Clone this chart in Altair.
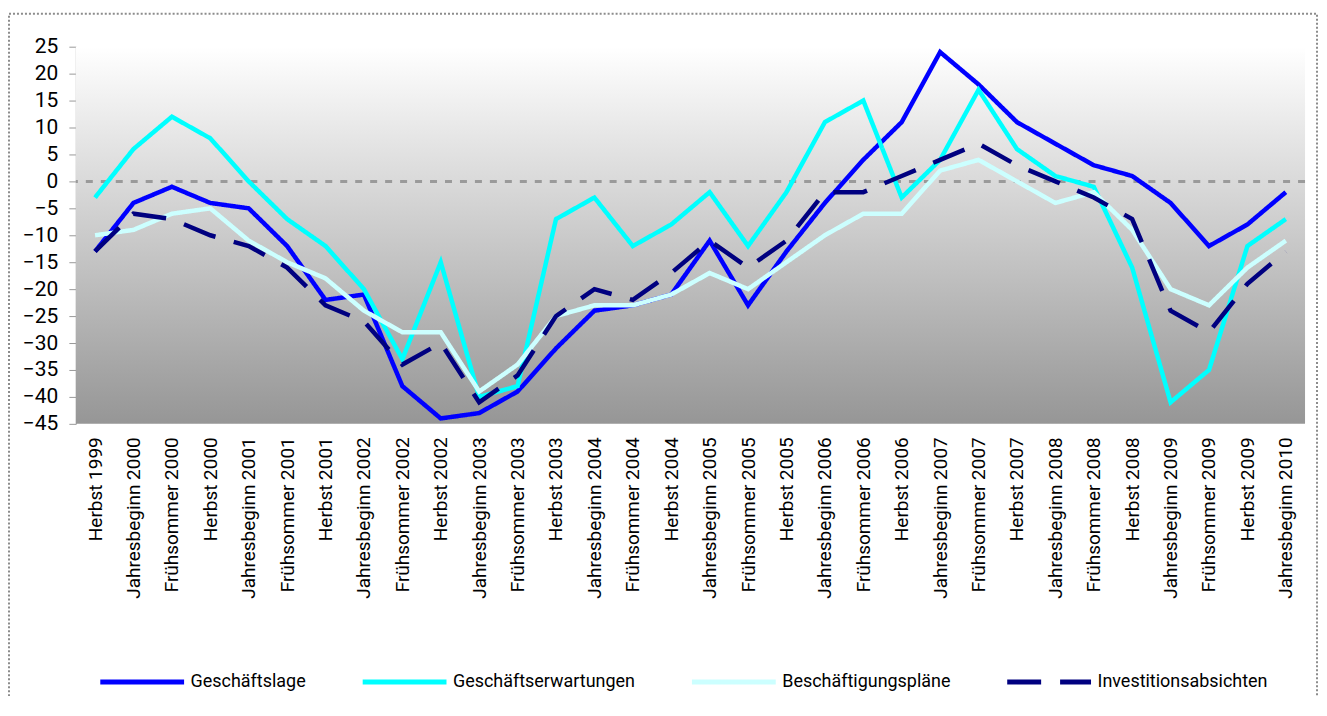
import altair as alt
import pandas as pd

categories = [
    "Herbst 1999", "Jahresbeginn 2000", "Frühsommer 2000", "Herbst 2000",
    "Jahresbeginn 2001", "Frühsommer 2001", "Herbst 2001", "Jahresbeginn 2002",
    "Frühsommer 2002", "Herbst 2002", "Jahresbeginn 2003", "Frühsommer 2003",
    "Herbst 2003", "Jahresbeginn 2004", "Frühsommer 2004", "Herbst 2004",
    "Jahresbeginn 2005", "Frühsommer 2005", "Herbst 2005", "Jahresbeginn 2006",
    "Frühsommer 2006", "Herbst 2006", "Jahresbeginn 2007", "Frühsommer 2007",
    "Herbst 2007", "Jahresbeginn 2008", "Frühsommer 2008", "Herbst 2008",
    "Jahresbeginn 2009", "Frühsommer 2009", "Herbst 2009", "Jahresbeginn 2010",
]

geschaeftslage = [-13, -4, -1, -4, -5, -12, -22, -21, -38, -44, -43, -39, -31, -24, -23, -21,
                  -11, -23, -13, -4, 4, 11, 24, 18, 11, 7, 3, 1, -4, -12, -8, -2]
geschaeftserwartungen = [-3, 6, 12, 8, 0, -7, -12, -20, -33, -15, -40, -38, -7, -3, -12, -8,
                         -2, -12, -2, 11, 15, -3, 4, 17, 6, 1, -1, -16, -41, -35, -12, -7]
beschaeftigungsplaene = [-10, -9, -6, -5, -11, -15, -18, -24, -28, -28, -39, -34, -25, -23, -23, -21,
                         -17, -20, -15, -10, -6, -6, 2, 4, 0, -4, -2, -9, -20, -23, -16, -11]
investitionsabsichten = [-13, -6, -7, -10, -12, -16, -23, -26, -34, -30, -41, -36, -25, -20, -22, -17,
                         -11, -16, -11, -2, -2, 1, 4, 7, 3, 0, -3, -7, -24, -28, -19, -13]

series_names = ["Geschäftslage", "Geschäftserwartungen", "Beschäftigungspläne", "Investitionsabsichten"]
series_values = [geschaeftslage, geschaeftserwartungen, beschaeftigungsplaene, investitionsabsichten]
series_colors = ["#0000ff", "#00ffff", "#ccffff", "#000080"]
series_dash = [[1, 0], [1, 0], [1, 0], [34, 19]]
y_ticks = list(range(-45, 30, 5))
y_min, y_max = -45, 25

rows = []
for name, vals in zip(series_names, series_values):
    for cat, v in zip(categories, vals):
        rows.append({"Kategorie": cat, "Wert": v, "Reihe": name})
df = pd.DataFrame(rows)

W, H = 1232, 378

y_scale = alt.Scale(domain=[y_min, y_max], nice=False, zero=False)
y_axis = alt.Axis(title=None, values=y_ticks, labelFont="Roboto", labelFontSize=21,
                  labelColor="black", tickSize=7, tickColor="#999999",
                  domainColor="#999999", grid=False, labelPadding=11,
                  labelOverlap=False, labelFlush=False, labelBound=False)

bg = alt.Chart(pd.DataFrame({"lo": [y_min], "hi": [y_max]})).mark_rect(
    color=alt.LinearGradient(
        gradient="linear",
        stops=[alt.GradientStop(color="#ffffff", offset=0),
               alt.GradientStop(color="#969696", offset=1)],
        x1=0, x2=0, y1=0, y2=1,
    )
).encode(
    y=alt.Y("hi:Q", scale=y_scale, axis=y_axis),
    y2="lo:Q",
)

zero = alt.Chart(pd.DataFrame({"z": [0]})).mark_rule(
    color="#9a9a9a", strokeDash=[7, 8], strokeWidth=3
).encode(y=alt.Y("z:Q", scale=y_scale, axis=y_axis))

legend = alt.Legend(title=None, orient="none", legendX=22, legendY=592,
                    direction="horizontal", symbolType="stroke",
                    symbolSize=7056, symbolStrokeWidth=5,
                    labelFont="Roboto", labelFontSize=18, labelFontWeight="normal",
                    labelColor="black", labelLimit=400, labelOffset=4,
                    columnPadding=46)

lines = alt.Chart(df).mark_line(strokeWidth=4.5, strokeCap="butt", strokeJoin="miter").encode(
    x=alt.X("Kategorie:N", sort=categories,
            scale=alt.Scale(type="point", padding=0.5),
            axis=alt.Axis(title=None, labelAngle=-90, labelFont="Roboto", labelFontSize=19,
                          labelColor="black", ticks=False, domain=False, labelPadding=13,
                          labelLimit=300)),
    y=alt.Y("Wert:Q", scale=y_scale, axis=y_axis),
    color=alt.Color("Reihe:N", sort=series_names,
                    scale=alt.Scale(domain=series_names, range=series_colors),
                    legend=legend),
    strokeDash=alt.StrokeDash("Reihe:N", sort=series_names,
                              scale=alt.Scale(domain=series_names, range=series_dash),
                              legend=legend),
)

border = alt.Chart(pd.DataFrame({"b": [0]})).mark_rect(
    fillOpacity=0, stroke="#8c8c8c", strokeWidth=2, strokeDash=[2, 2]
).encode(
    x=alt.value(-67), x2=alt.value(1244), y=alt.value(-33), y2=alt.value(720)
)

chart = alt.layer(bg, zero, lines, border).properties(
    width=W, height=H,
    padding={"left": 68, "top": 38, "right": 14, "bottom": 272},
    autosize=alt.AutoSizeParams(type="none"),
    background="white",
).configure_view(stroke=None)

chart.save("out.html", embed_options={"renderer": "svg", "actions": False})
